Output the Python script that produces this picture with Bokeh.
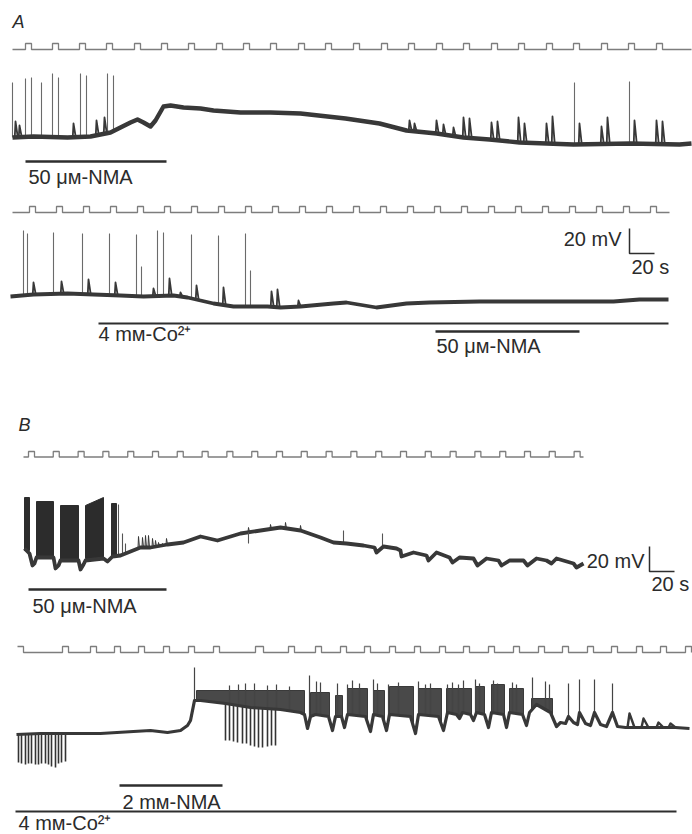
import numpy as np
from bokeh.plotting import figure
from bokeh.models import Range1d
from bokeh.core.properties import value
from bokeh.embed import file_html
from bokeh.resources import INLINE

# ---------------- data (time in s, potential in mV; 20 s = 20 mV on the page) -------------
# stimulus pulse trains (onset times, s)
A1_stim_on = [20.0, 41.6, 63.2, 84.8, 107.2, 128.8, 150.4, 172.8, 194.4, 216.0, 238.4, 260.0,
              282.4, 304.8, 326.4, 348.8, 370.4, 392.8, 414.4, 436.8, 458.4, 480.8, 502.4, 524.8]
A2_stim_on = [23.2, 44.8, 66.4, 88.0, 109.6, 131.2, 152.8, 174.4, 196.0, 217.6, 239.2, 260.8,
              282.4, 304.0, 325.6, 347.2, 368.8, 390.4, 412.0, 433.6, 455.2, 476.8, 498.4, 520.0]
B1_stim_on = [22.4, 42.2, 62.1, 81.9, 101.8, 121.6, 141.4, 161.3, 181.1, 201.0, 220.8, 240.6,
              260.5, 280.3, 300.2, 320.0, 339.8, 359.7, 379.5, 399.4, 419.2, 439.0, 458.9]
B2_stim_on = [13.6, 49.6, 72.0, 91.2, 110.4, 130.4, 150.4, 170.4, 204.0, 230.4, 252.0, 272.0,
              291.2, 311.2, 331.2, 351.2, 370.4, 390.4, 410.4, 430.4, 449.6, 469.6, 488.8,
              508.8, 528.0, 548.0]
B2_stim_w = [4.8] * 8 + [6.4] + [4.8] * 17

# A, upper record: slow membrane potential
A1_t = [9.6, 26.4, 53.6, 72.0, 88.0, 96.0, 104.0, 109.6, 114.4, 120.0, 124.0, 130.4, 136.0,
        146.4, 160.0, 170.4, 192.0, 216.0, 240.0, 276.0, 303.2, 324.8, 348.8, 370.4, 391.2,
        415.2, 436.8, 458.4, 504.0, 543.2, 552.8]
A1_v = [0, 0.8, 0, 0.8, 4.0, 8.0, 12.0, 14.4, 12.0, 8.8, 13.6, 24.8, 25.6, 24.0, 23.2, 21.6,
        20.0, 20.0, 19.2, 15.2, 11.2, 5.6, 3.2, 0, -1.6, -4.0, -4.8, -5.6, -4.8, -5.6, -4.8]
A1_spk_t = [9.6, 20.0, 24.8, 32.8, 41.6, 46.4, 64.0, 68.8, 85.6, 90.4, 459.2, 503.2]
A1_spk_v = [44.0, 47.2, 48.0, 44.0, 51.2, 48.0, 51.2, 49.6, 51.2, 49.6, 44.0, 44.8]
A1_psp_t = [12.0, 15.2, 58.4, 76.8, 83.2, 327.2, 331.2, 348.8, 354.4, 362.4, 370.4, 375.2, 392.8,
            397.6, 414.4, 419.2, 436.8, 441.6, 463.2, 480.8, 485.6, 507.2, 524.8, 529.6]
A1_psp_v = [12.8, 9.6, 11.2, 13.6, 16.0, 13.6, 11.2, 13.6, 10.4, 8.0, 16.0, 15.2, 12.0,
            12.8, 16.0, 11.2, 11.2, 16.8, 11.2, 8.8, 16.0, 13.6, 13.6, 12.8]

# A, lower record
A2_t = [8.0, 26.4, 53.6, 74.4, 96.0, 114.4, 138.4, 149.6, 160.0, 170.4, 186.4, 202.4, 213.6,
        224.0, 240.0, 266.4, 276.8, 300.8, 324.8, 343.2, 383.2, 436.8, 490.4, 511.2, 534.4]
A2_v = [0, 1.6, 2.4, 1.6, 0.8, 0, 0.8, -0.8, -3.2, -5.6, -8.0, -8.0, -8.0, -8.8, -8.0,
        -5.6, -4.8, -8.8, -5.6, -4.8, -4.0, -4.0, -4.0, -2.4, -2.4]
A2_spk_t = [18.4, 21.6, 42.4, 65.6, 87.2, 108.8, 112.8, 125.6, 130.4, 152.8, 174.4, 196.0, 200.0]
A2_spk_v = [52.8, 50.4, 51.2, 50.4, 50.4, 49.6, 24.0, 52.8, 51.2, 49.6, 48.8, 50.4, 20.8]
A2_psp_t = [26.4, 48.8, 70.4, 92.0, 122.4, 135.2, 144.0, 156.8, 178.4, 216.8, 221.6, 238.4]
A2_psp_v = [11.2, 12.0, 13.6, 11.2, 6.4, 14.4, 3.2, 8.8, 7.2, 4.0, 5.6, -3.2]

# B, upper record
B1_t = [19.2, 23.2, 25.6, 27.2, 28.8, 42.4, 44.0, 46.4, 48.0, 62.4, 64.0, 66.4, 68.0, 82.4,
        85.6, 89.6, 96.0, 104.0, 112.0, 120.0, 133.6, 146.4, 160.0, 173.6, 192.0, 208.0,
        224.0, 240.0, 256.0, 266.4, 276.8, 290.4, 299.2, 300.8, 306.4, 316.8, 320.0, 320.8,
        330.4, 340.8, 342.4, 348.8, 359.2, 361.6, 367.2, 378.4, 381.6, 388.8, 398.4, 400.8,
        407.2, 418.4, 421.6, 428.8, 436.8, 440.8, 444.8, 458.4, 460.8, 466.4]
B1_v = [5.6, 1.6, -8.0, -6.4, -1.6, -1.6, -10.4, -8.0, -4.0, -4.0, -11.2, -7.2, -4.0, -2.4,
        -4.8, -0.8, 0, 3.2, 6.4, 6.4, 8.8, 10.4, 15.2, 12.0, 17.6, 20.0, 22.4, 20.0, 14.4,
        10.4, 9.6, 8.0, 6.4, 2.4, 7.2, 5.6, 4.0, -0.8, 2.4, 0, -4.0, 2.4, -1.6, -5.6, -1.6,
        -2.4, -8.0, -2.4, -4.0, -8.0, -4.0, -4.0, -8.0, -2.4, -4.0, -6.4, -2.4, -6.4, -9.6, -6.4]
B1_burst_start = [19.2, 28.8, 48.0, 68.0, 88.8]
B1_burst_end = [23.2, 42.4, 62.4, 82.4, 92.8]
B1_burst_top0 = [46.4, 43.2, 40.0, 40.0, 41.6]
B1_burst_top1 = [46.4, 43.2, 40.0, 46.4, 41.6]
B1_burst_floor = [4.0, -1.6, -4.0, -2.4, -0.8]
B1_spk_t = [94.4, 97.6, 100.0, 274.4, 305.6]
B1_spk_v = [40.8, 17.6, 9.6, 20.0, 17.6]
B1_psp_t = [110.4, 113.6, 116.0, 118.4, 121.6, 124.0, 126.4, 129.6, 132.8, 198.4, 216.0,
            228.0, 240.0]
B1_psp_v = [15.2, 14.4, 16.0, 16.0, 13.6, 12.0, 10.4, 9.6, 13.6, 22.4, 24.8, 26.4, 24.0]
B1_down_t = [198.4]
B1_down_v = [9.6]

# B, lower record
B2_t = [12.8, 32.0, 53.6, 80.0, 106.4, 120.0, 133.6, 144.0, 149.6, 152.0, 153.6, 155.2, 160.0,
        180.0, 200.0, 224.0, 240.0, 243.2, 245.6, 248.0, 252.0, 262.4, 265.6, 268.0, 272.8,
        275.2, 277.6, 292.0, 296.0, 298.4, 305.6, 308.8, 311.2, 328.0, 332.0, 334.4, 350.4,
        354.4, 357.6, 364.8, 367.2, 369.6, 376.0, 378.4, 380.8, 387.2, 390.4, 392.8, 402.4,
        404.8, 407.2, 417.6, 420.8, 423.2, 428.8, 440.0, 444.8, 448.0, 452.0, 454.4, 458.4,
        461.6, 463.2, 468.0, 472.0, 475.2, 480.0, 484.8, 489.6, 493.6, 500.0, 509.6, 520.0,
        530.4, 540.0, 551.2]
B2_v = [-0.8, 0, 0, 0, 1.6, 2.4, 0.8, 2.4, 6.4, 10.4, 18.4, 26.4, 26.4, 24.0, 20.8, 19.2,
        16.8, 15.2, 4.0, 13.6, 15.2, 13.6, 2.4, 13.6, 13.6, 4.8, 15.2, 13.6, 1.6, 15.2, 13.6,
        2.4, 15.2, 13.6, 0, 15.2, 13.6, 2.4, 16.8, 15.2, 12.0, 16.8, 15.2, 10.4, 16.8, 15.2,
        4.8, 16.8, 15.2, 4.8, 16.8, 15.2, 6.4, 16.8, 23.2, 16.8, 5.6, 8.8, 8.0, 13.6, 8.8,
        7.2, 16.8, 8.0, 6.4, 16.8, 7.2, 5.6, 16.8, 5.6, 4.8, 4.8, 4.8, 4.8, 4.8, 4.0]
B2_band_start = [156.8, 248.0, 268.0, 277.6, 298.4, 311.2, 334.4, 356.8, 380.0, 392.8, 407.2, 424.8]
B2_band_end = [243.2, 263.2, 273.6, 293.6, 307.2, 330.4, 352.8, 376.8, 387.2, 403.2, 418.4, 441.6]
B2_band_top = [34.4, 32.8, 30.4, 36.0, 34.4, 37.6, 36.0, 36.0, 37.6, 39.2, 36.0, 28.0]
B2_spk_t = [155.2, 183.2, 190.4, 196.0, 203.2, 213.6, 220.8, 231.2, 247.2, 252.8, 256.0, 269.6,
            277.6, 281.6, 287.2, 298.4, 301.6, 310.4, 318.4, 334.4, 340.0, 344.0, 357.6, 361.6,
            366.4, 370.4, 380.0, 383.2, 394.4, 397.6, 409.6, 412.8, 425.6, 436.0, 439.2, 454.4,
            463.2, 475.2, 489.6]
B2_spk_v = [52.8, 38.4, 39.2, 40.0, 40.0, 38.4, 39.2, 37.6, 46.4, 41.6, 40.8, 40.0, 39.2, 42.4,
            40.0, 43.2, 40.0, 39.2, 40.8, 41.6, 39.2, 40.0, 39.2, 40.8, 39.2, 42.4, 43.2, 40.0,
            42.4, 40.0, 40.8, 39.2, 44.8, 41.6, 39.2, 40.0, 43.2, 43.2, 40.0]
B2_psp_t = [503.2, 514.4, 526.4, 536.0]
B2_psp_v = [16.0, 12.0, 8.8, 8.0]
B2_down_t = [14.4, 16.8, 20.0, 22.4, 24.8, 28.0, 30.4, 32.8, 36.0, 38.4, 40.8, 44.0, 46.4, 48.8,
             52.0, 180.0, 183.2, 186.4, 189.6, 193.6, 196.8, 200.0, 203.2, 206.4, 209.6, 213.6,
             216.8, 220.0]
B2_down_v = [-23.2, -24.0, -24.8, -24.0, -24.0, -24.8, -24.8, -24.0, -24.0, -24.8, -26.4, -27.2,
             -24.0, -23.2, -22.4, -5.6, -5.6, -6.4, -7.2, -8.0, -8.0, -9.6, -10.4, -11.2, -11.2,
             -10.4, -9.6, -9.6]

# drug application bars (start s, end s)
A1_nma = (20.0, 132.8)
A2_co = (78.4, 534.4)
A2_nma = (348.0, 463.2)
B1_nma = (22.4, 132.8)
B2_nma = (95.2, 177.6)
B2_co = (12.0, 540.8)
SCALE_MV = 20
SCALE_S = 20

# ---------------- layout (page positions in the same units) ----------------
A1_OFF, A2_OFF, B1_OFF, B2_OFF = -109.6, -236.8, -444.0, -586.4
DARK = "#383838"
STIM = "#7d7d7d"
FONT = value("Liberation Sans")
TXT_DY = 4.8  # text baseline correction

p = figure(width=692, height=834, x_range=Range1d(0, 553.6), y_range=Range1d(-667.2, 0),
           output_backend="svg", toolbar_location=None, min_border=0,
           x_axis_location=None, y_axis_location=None)
p.grid.visible = False
p.outline_line_color = None
p.background_fill_color = "white"
p.border_fill_color = "white"


def stim(onsets, widths, t0, t1, base, h):
    xs, ys = [t0], [base]
    for on, w in zip(onsets, widths):
        xs += [on, on, on + w, on + w]
        ys += [base, base + h, base + h, base]
    xs.append(t1)
    ys.append(base)
    if onsets[0] == t0:
        xs, ys = xs[2:], ys[2:]
    p.line(xs, ys, line_color=STIM, line_width=1.3)


def trace(t, v, off, lw):
    p.line(t, np.array(v) + off, line_color=DARK, line_width=lw, line_join="round")


def spikes(t, v, st, sv, off, color, lw):
    base = np.interp(st, t, v) + off
    p.segment(st, base, st, np.array(sv) + off, line_color=color, line_width=lw)


def psps(t, v, pt, pv, off, rise, decay, lw):
    xs, ys = [], []
    for a, b in zip(pt, pv):
        xs.append([a - rise, a, a + decay])
        ys.append([np.interp(a - rise, t, v) + off, b + off, np.interp(a + decay, t, v) + off])
    p.multi_line(xs, ys, line_color=DARK, line_width=lw, line_join="round")


stim(A1_stim_on, [4.8] * len(A1_stim_on), 9.6, 552.8, -39.2, 4.8)
stim(A2_stim_on, [4.8] * len(A2_stim_on), 9.6, 535.2, -169.6, 4.8)
stim(B1_stim_on, [4.8] * len(B1_stim_on), 18.4, 466.4, -365.2, 4.4)
stim(B2_stim_on, B2_stim_w, 13.6, 552.8, -521.6, 4.8)

# A upper
spikes(A1_t, A1_v, A1_spk_t, A1_spk_v, A1_OFF, "#6a6a6a", 1.1)
trace(A1_t, A1_v, A1_OFF, 4.4)
psps(A1_t, A1_v, A1_psp_t, A1_psp_v, A1_OFF, 0.6, 1.8, 1.8)

# A lower
spikes(A2_t, A2_v, A2_spk_t, A2_spk_v, A2_OFF, "#6a6a6a", 1.1)
trace(A2_t, A2_v, A2_OFF, 3.8)
psps(A2_t, A2_v, A2_psp_t, A2_psp_v, A2_OFF, 0.6, 1.8, 1.8)

# B upper
bx, by = [], []
for s, e, t0, t1, f in zip(B1_burst_start, B1_burst_end, B1_burst_top0, B1_burst_top1, B1_burst_floor):
    bx.append([s, s, e, e])
    by.append([f + B1_OFF, t0 + B1_OFF, t1 + B1_OFF, f + B1_OFF])
p.patches(bx, by, fill_color="#2c2c2c", line_color="#2c2c2c", line_width=1)
spikes(B1_t, B1_v, B1_spk_t, B1_spk_v, B1_OFF, "#555555", 1.1)
trace(B1_t, B1_v, B1_OFF, 3.8)
psps(B1_t, B1_v, B1_psp_t, B1_psp_v, B1_OFF, 0.4, 0.8, 1.0)
spikes(B1_t, B1_v, B1_down_t, B1_down_v, B1_OFF, "#555555", 1.1)

# B lower
bx, by = [], []
tt = np.array(B2_t)
vv = np.array(B2_v)
for s, e, top in zip(B2_band_start, B2_band_end, B2_band_top):
    inner = (tt > s) & (tt < e)
    xb = [s] + list(tt[inner]) + [e]
    yb = [np.interp(s, tt, vv)] + list(vv[inner]) + [np.interp(e, tt, vv)]
    bx.append(xb[::-1] + [s, e])
    by.append([y + B2_OFF for y in yb[::-1]] + [top + B2_OFF, top + B2_OFF])
p.patches(bx, by, fill_color="#3a3a3a", fill_alpha=0.92, line_color="#3a3a3a", line_width=1)
spikes(B2_t, B2_v, B2_spk_t, B2_spk_v, B2_OFF, "#444444", 1.2)
spikes(B2_t, B2_v, B2_down_t, B2_down_v, B2_OFF, "#333333", 1.6)
trace(B2_t, B2_v, B2_OFF, 3.2)
psps(B2_t, B2_v, B2_psp_t, B2_psp_v, B2_OFF, 1.6, 4.0, 2.4)

# drug bars
bars = [(A1_nma, -128.8, 2.6), (A2_co, -258.4, 2.2), (A2_nma, -264.8, 2.4),
        (B1_nma, -471.2, 2.4), (B2_nma, -628.0, 2.4), (B2_co, -648.8, 2.0)]
for (s, e), y, lw in bars:
    p.line([s, e], [y, y], line_color="#2e2e2e", line_width=lw)

# scale bars
for x0, y0 in [(503.2, -202.4), (519.2, -456.8)]:
    p.line([x0, x0, x0 + SCALE_S], [y0 + SCALE_MV, y0, y0], line_color="#2e2e2e", line_width=1.5)

# texts
TXT = "#2b2b2b"
p.text(x=[9.6, 14.4], y=[-21.6 + TXT_DY, -344.0 + TXT_DY], text=["A", "B"], text_font=FONT,
       text_font_size="18px", text_font_style="italic", text_color=TXT, text_baseline="alphabetic")
p.text(x=[22.4, 78.4, 348.8, 504.8, 25.6, 520.8, 97.6, 14.4],
       y=[y + TXT_DY for y in [-145.6, -271.2, -280.8, -217.6, -488.8, -471.2, -645.6, -662.4]],
       text=["50 μᴍ-NMA", "4 mᴍ-Co²⁺", "50 μᴍ-NMA", "20 s", "50 μᴍ-NMA", "20 s",
             "2 mᴍ-NMA", "4 mᴍ-Co²⁺"],
       text_font=FONT, text_font_size="20px", text_color=TXT, text_baseline="alphabetic")
p.text(x=[496.8, 515.2], y=[-195.2 + TXT_DY, -452.8 + TXT_DY], text=["20 mV", "20 mV"], text_font=FONT,
       text_font_size="20px", text_color=TXT, text_baseline="alphabetic", text_align="right")

open("out.html", "w").write(file_html(p, INLINE))
